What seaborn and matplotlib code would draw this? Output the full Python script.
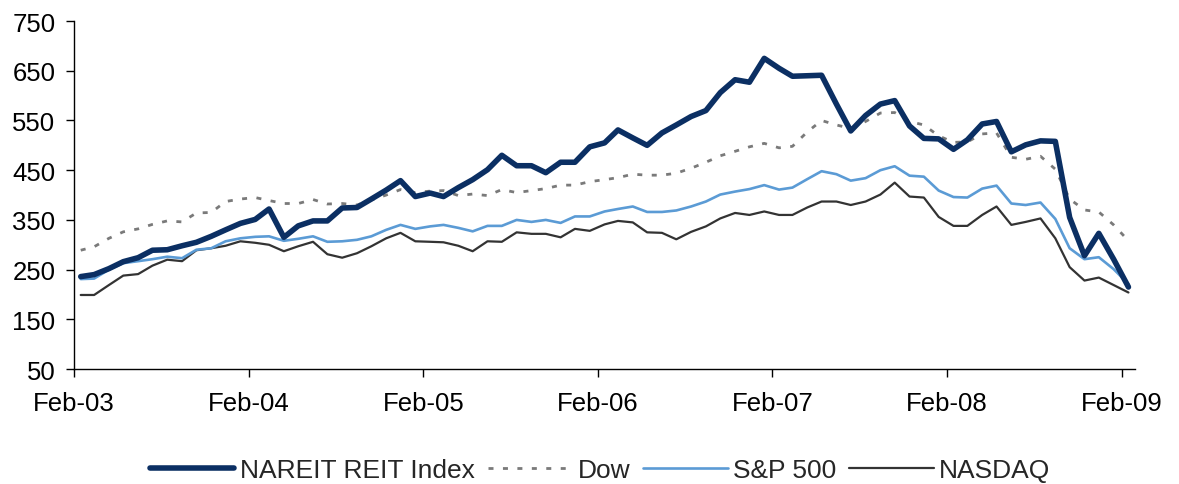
import pandas as pd
import numpy as np
import matplotlib
matplotlib.use("Agg")
import matplotlib.pyplot as plt
import matplotlib.dates as mdates
import seaborn as sns

# monthly index levels, Feb-03 .. Feb-09
nareit = [236, 240, 252, 266, 274, 289, 290, 298, 305, 317, 330, 343, 351,
          372, 315, 338, 348, 348, 374, 375, 392, 410, 429, 397, 404,
          397, 415, 431, 451, 480, 459, 459, 445, 466, 466, 497, 505,
          531, 515, 500, 525, 541, 558, 570, 606, 632, 627, 675, 655,
          639, 640, 641, 583, 529, 560, 583, 590, 539, 514, 513, 492,
          511, 543, 548, 487, 501, 509, 508, 355, 278, 323, 271, 215]
dow = [289, 296, 313, 326, 332, 341, 348, 346, 364, 365, 387, 392, 395,
       389, 383, 383, 391, 382, 383, 380, 390, 400, 411, 405, 408,
       409, 399, 402, 399, 411, 405, 409, 413, 420, 420, 427, 431,
       435, 442, 440, 440, 444, 454, 466, 479, 488, 497, 504, 495,
       498, 527, 550, 541, 534, 548, 565, 566, 548, 541, 519, 506,
       507, 523, 525, 476, 472, 478, 452, 392, 370, 366, 340, 308]
sp500 = [231, 232, 250, 263, 267, 271, 276, 273, 290, 293, 307, 313, 316,
         317, 308, 312, 317, 306, 307, 310, 317, 330, 340, 332, 337,
         340, 334, 327, 338, 338, 350, 346, 350, 344, 357, 357, 367,
         372, 377, 366, 366, 369, 377, 387, 401, 407, 412, 420, 411,
         415, 432, 448, 442, 429, 434, 450, 458, 439, 437, 409, 396,
         395, 413, 419, 383, 380, 385, 352, 293, 271, 275, 251, 221]
nasdaq = [199, 199, 219, 238, 241, 258, 270, 267, 289, 293, 298, 307, 304,
          300, 287, 297, 306, 281, 274, 283, 297, 313, 324, 307, 306,
          305, 298, 287, 307, 306, 325, 322, 322, 315, 332, 328, 341,
          348, 345, 325, 324, 311, 326, 337, 353, 364, 360, 367, 360,
          360, 375, 387, 387, 380, 387, 401, 425, 397, 395, 356, 338,
          338, 360, 377, 340, 346, 353, 313, 255, 228, 234, 219, 204]

dates = pd.date_range("2003-02-01", periods=len(nareit), freq="MS") + pd.Timedelta(days=14)
tick_dates = pd.date_range("2003-02-01", "2009-02-01", freq="12MS")

sns.set_style("white")
plt.rcParams["font.family"] = ["Liberation Sans", "DejaVu Sans"]

fig = plt.figure(figsize=(11.79, 4.85), dpi=100)
ax = fig.add_axes([0.0628, 0.237, 0.90, 0.7175])

sns.lineplot(x=dates, y=dow, ax=ax, color="#7a7a7a", linewidth=2.0,
             linestyle=(0, (1.8, 3.4)), label="Dow")
sns.lineplot(x=dates, y=nasdaq, ax=ax, color="#333333", linewidth=1.6, label="NASDAQ")
sns.lineplot(x=dates, y=sp500, ax=ax, color="#5b9bd5", linewidth=1.9, label="S&P 500")
sns.lineplot(x=dates, y=nareit, ax=ax, color="#0b2f63", linewidth=4.0, label="NAREIT REIT Index")

ax.set_ylim(50, 750)
ax.set_yticks(np.arange(50, 751, 100))
ax.set_xlim(pd.Timestamp("2003-02-01"), pd.Timestamp("2009-03-01"))
ax.set_xticks(tick_dates)
ax.xaxis.set_major_formatter(mdates.DateFormatter("%b-%y"))
ax.set_xlabel("")
ax.set_ylabel("")

for s in ["top", "right"]:
    ax.spines[s].set_visible(False)
for s in ["left", "bottom"]:
    ax.spines[s].set_color("black")
    ax.spines[s].set_linewidth(1.0)
ax.tick_params(axis="both", direction="out", length=5.5, width=1.0, color="black",
               labelsize=18.5, labelcolor="black", pad=8)
ax.tick_params(axis="x", bottom=True, pad=10)
ax.tick_params(axis="y", left=True)

handles, labels = ax.get_legend_handles_labels()
ax.get_legend().remove()
order = ["NAREIT REIT Index", "Dow", "S&P 500", "NASDAQ"]
hmap = dict(zip(labels, handles))
fig.legend([hmap[k] for k in order], order, loc="center", bbox_to_anchor=(0.509, 0.029),
           ncol=4, frameon=False, fontsize=19, handlelength=3.2, handletextpad=0.2,
           columnspacing=0.5, borderaxespad=0)

fig.savefig("out.png", dpi=100)
